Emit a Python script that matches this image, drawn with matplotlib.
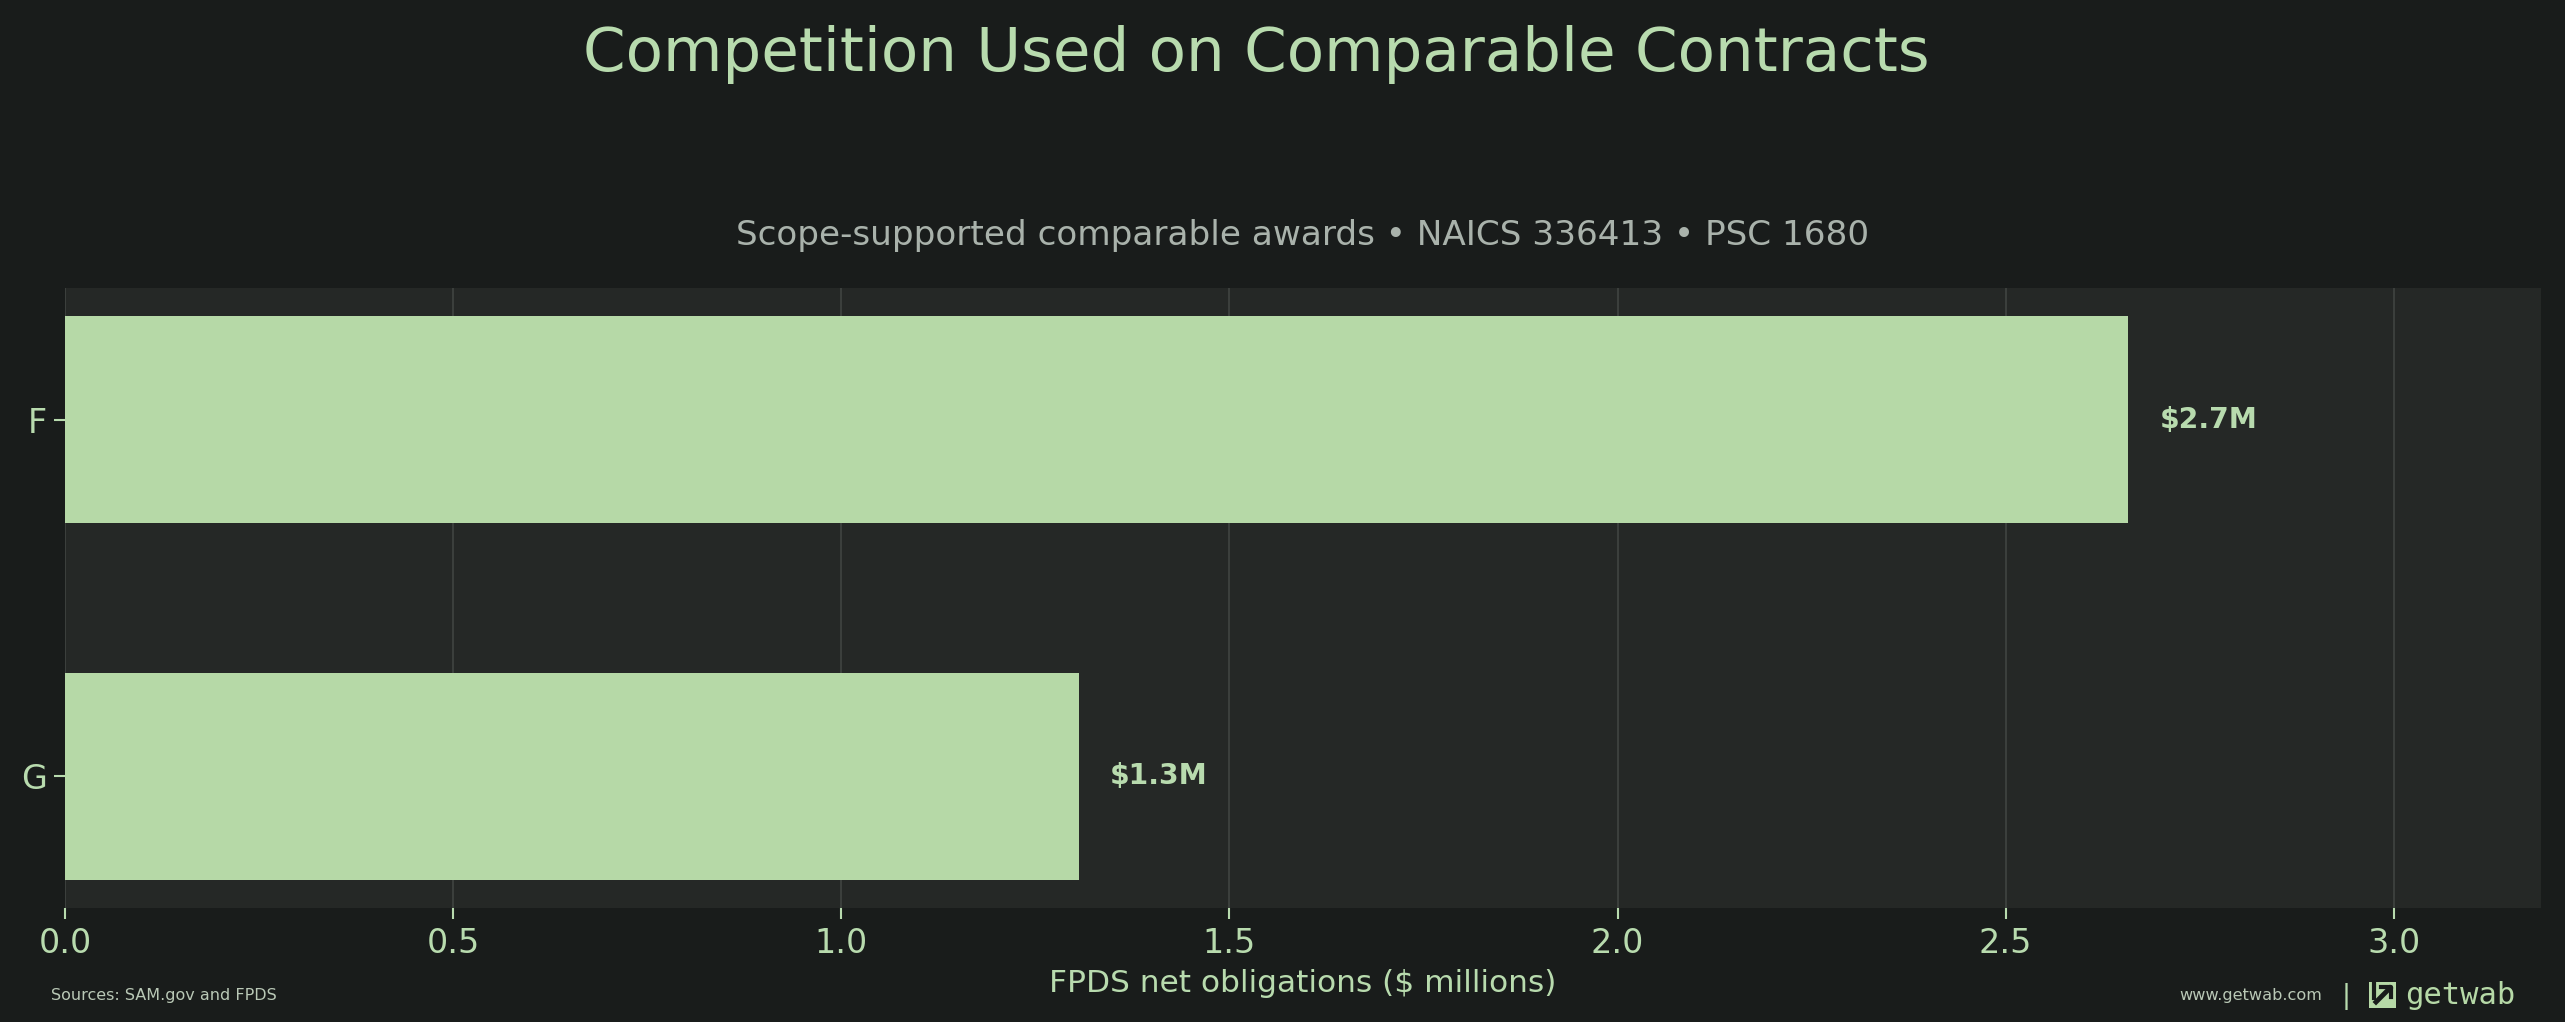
import numpy as np
import matplotlib
matplotlib.use('Agg')
import matplotlib.pyplot as plt
from matplotlib.patches import Rectangle

# chart data
categories = ['F', 'G']
obligations = [2.658, 1.306]          # $ millions
bar_labels = ['$2.7M', '$1.3M']
xticks = [0.0, 0.5, 1.0, 1.5, 2.0, 2.5, 3.0]

title = 'Competition Used on Comparable Contracts'
subtitle = 'Scope-supported comparable awards \u2022 NAICS 336413 \u2022 PSC 1680'
xlabel = 'FPDS net obligations ($ millions)'

# colours
fig_bg = '#191c1b'
ax_bg = '#252826'
bar_col = '#b6d9a7'
green_txt = '#b8dbae'
grey_txt = '#a9b2ab'
grid_col = '#3b3f3c'

W, H = 2565, 1022
fig = plt.figure(figsize=(W / 100, H / 100), dpi=100, facecolor=fig_bg)

# axes box in pixel terms
left, right, top, bottom = 65, 2541, 288, 908
ax = fig.add_axes([left / W, 1 - bottom / H, (right - left) / W, (bottom - top) / H])
ax.set_facecolor(ax_bg)

y = np.arange(len(categories))
ax.barh(y, obligations, height=0.58, color=bar_col, zorder=3)
ax.set_yticks(y)
ax.set_yticklabels(categories)
ax.invert_yaxis()

xmax = max(obligations) * 1.2
ax.set_xlim(0, xmax)
ax.set_xticks(xticks)
ax.set_xticklabels([f'{t:.1f}' for t in xticks])

for yi, v, lab in zip(y, obligations, bar_labels):
    ax.text(v + xmax * 0.0125, yi, lab, va='center', ha='left',
            fontsize=20.3, fontweight='bold', color=green_txt, zorder=4)

ax.grid(axis='x', color=grid_col, lw=1.5, zorder=0)
ax.grid(axis='y', visible=False)
for s in ax.spines.values():
    s.set_visible(False)

ax.tick_params(axis='both', colors=green_txt, labelsize=24, length=8, width=1.5)
ax.tick_params(axis='x', pad=6)
ax.tick_params(axis='y', pad=5)
ax.set_xlabel(xlabel, fontsize=22.5, color=green_txt, labelpad=6)
ax.set_title(subtitle, fontsize=24.7, color=grey_txt, pad=31)

fig.text(1256 / W, 1 - 71 / H, title, ha='center', va='baseline',
         fontsize=44, color=green_txt)

# footer
fig.text(51 / W, 1 - 995 / H, 'Sources: SAM.gov and FPDS', ha='left', va='center',
         fontsize=11.5, color='#b9c8b6')
fig.text(2322 / W, 1 - 995 / H, 'www.getwab.com', ha='right', va='center',
         fontsize=11.6, color='#b9c8b6')
fig.text(2346 / W, 1 - 996 / H, '|', ha='center', va='center',
         fontsize=19, color=green_txt)

# logo mark
ix0, iy0, isz = 2369 / W, 1 - 1008 / H, 27
fig.patches.append(Rectangle((ix0, iy0), isz / W, 26 / H, transform=fig.transFigure,
                             facecolor=bar_col, edgecolor='none'))
fig.lines.append(plt.Line2D([ix0 + 5 / W, ix0 + 5 / W], [iy0 + 26 / H, iy0 + 10 / H],
                            transform=fig.transFigure, color=fig_bg, lw=3))
fig.lines.append(plt.Line2D([ix0 + 7 / W, ix0 + 21 / W], [iy0 + 6 / H, iy0 + 20 / H],
                            transform=fig.transFigure, color=fig_bg, lw=3.5))
fig.lines.append(plt.Line2D([ix0 + 12 / W, ix0 + 22 / W, ix0 + 22 / W],
                            [iy0 + 21 / H, iy0 + 21 / H, iy0 + 11 / H],
                            transform=fig.transFigure, color=fig_bg, lw=3))
fig.text(2405 / W, 1 - 996 / H, 'getwab', ha='left', va='center',
         fontsize=22, color=bar_col, family='DejaVu Sans Mono')

fig.savefig('out.png', dpi=100, facecolor=fig_bg)
